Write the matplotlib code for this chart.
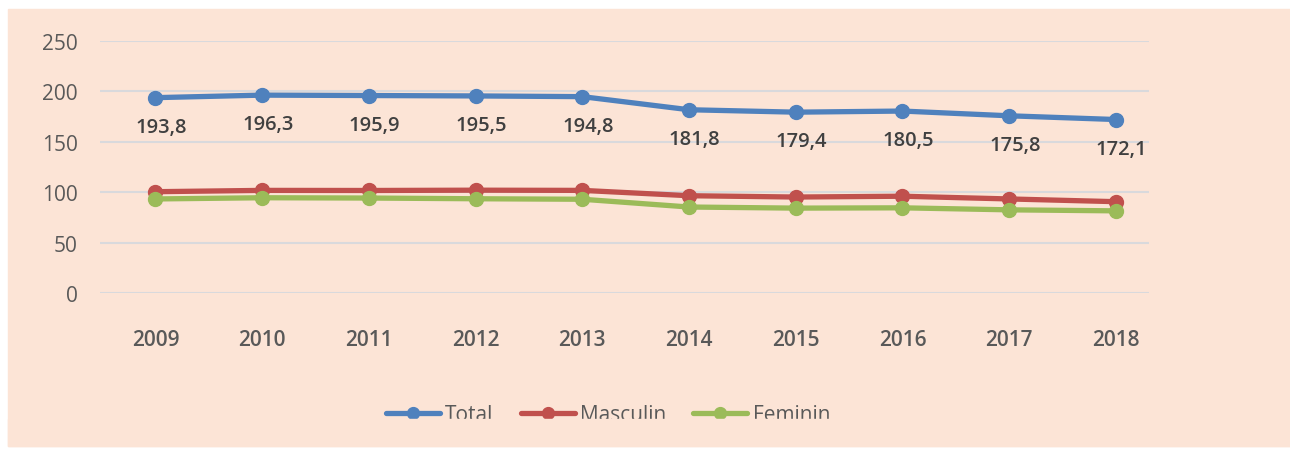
import matplotlib.pyplot as plt
from matplotlib.patches import Rectangle

# ---- data ----
years = ["2009", "2010", "2011", "2012", "2013", "2014", "2015", "2016", "2017", "2018"]
total = [193.8, 196.3, 195.9, 195.5, 194.8, 181.8, 179.4, 180.5, 175.8, 172.1]
masculin = [100.5, 101.8, 101.7, 102.0, 101.8, 96.5, 95.2, 96.0, 93.3, 90.6]
feminin = [93.3, 94.5, 94.2, 93.5, 93.0, 85.3, 84.2, 84.5, 82.5, 81.5]

series = [("Total", total, "#4F81BD"),
          ("Masculin", masculin, "#C0504D"),
          ("Feminin", feminin, "#9BBB59")]

bg = "#FCE4D6"
txt = "#595959"

plt.rcParams["font.family"] = ["Open Sans", "DejaVu Sans"]

fig = plt.figure(figsize=(12.9, 4.52), dpi=100)
fig.patch.set_facecolor("white")
# peach panel
fig.add_artist(Rectangle((8 / 1290, 1 - 447 / 452), 1, 437 / 452,
                         transform=fig.transFigure, color=bg, zorder=0))

ax = fig.add_axes([100 / 1290, 1 - 294 / 452, 1049 / 1290, 252 / 452])
ax.set_facecolor("none")

x = list(range(len(years)))
for name, vals, col in series:
    ax.plot(x, vals, color=col, lw=3.8, marker="o", ms=10, label=name,
            solid_capstyle="round", zorder=3)

# data labels for total
for xi, v in zip(x, total):
    ax.annotate(f"{v:.1f}".replace(".", ","), (xi, v), xytext=(4, -21),
                textcoords="offset points", ha="center", va="center",
                fontsize=14.5, fontweight="semibold", color="#404040")

ax.set_ylim(0, 250)
ax.set_yticks(range(0, 251, 50))
ax.set_xlim(-0.52, 9.31)
ax.set_xticks(x)
ax.set_xticklabels(years, fontweight="semibold")
ax.grid(axis="y", color="#D9D9DC", lw=1.5)
ax.set_axisbelow(True)
for s in ax.spines.values():
    s.set_visible(False)
ax.tick_params(axis="y", length=0, pad=16, labelsize=15, labelcolor=txt)
ax.tick_params(axis="x", length=0, pad=26, labelsize=15, labelcolor=txt)

fig.legend(loc="center", bbox_to_anchor=(608 / 1290, 1 - 416 / 452), ncol=3,
           frameon=False, fontsize=15, labelcolor=txt, handlelength=2.6,
           handletextpad=0.25, columnspacing=1.3, markerscale=0.85)

# legend text is cut off at the bottom in the original
fig.add_artist(Rectangle((8 / 1290, 1 - 447 / 452), 1, 27 / 452,
                         transform=fig.transFigure, color=bg, zorder=10))

fig.savefig("out.png", dpi=100)
